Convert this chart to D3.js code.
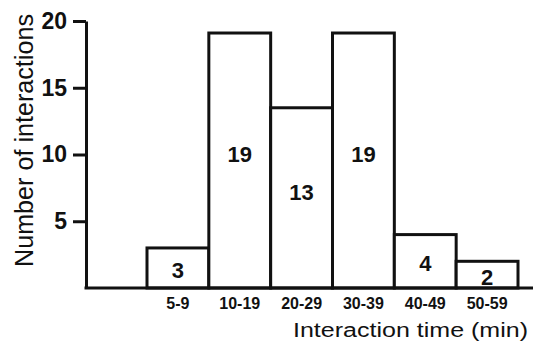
<!DOCTYPE html>
<html>
<head>
<meta charset="utf-8">
<script src="https://cdn.jsdelivr.net/npm/d3@7"></script>
<style>
  html, body { margin: 0; padding: 0; background: #fff; }
  svg { display: block; }
  text { font-family: "Liberation Sans", Arial, sans-serif; fill: #111; }
</style>
</head>
<body>
<svg id="chart" width="533" height="342"></svg>
<script>
const categories = ["5-9", "10-19", "20-29", "30-39", "40-49", "50-59"];
const counts = [3, 19, 13, 19, 4, 2];
const barHeights = [3, 19.1, 13.5, 19.1, 4, 2];
const yTicks = [5, 10, 15, 20];
const yTitle = "Number of interactions";
const xTitle = "Interaction time (min)";

const W = 533, H = 342;
const axisX = 86, axisY = 288, topY = 21;
const svg = d3.select("#chart");

const y = d3.scaleLinear().domain([0, 20]).range([axisY, topY]);
const x = d3.scaleBand().domain(categories).range([147, 518]).padding(0);

// bars
const data = categories.map((c, i) => ({ c, h: barHeights[i], n: counts[i] }));
svg.append("g").selectAll("rect").data(data).join("rect")
  .attr("x", d => x(d.c))
  .attr("y", d => y(d.h))
  .attr("width", x.bandwidth())
  .attr("height", d => y(0) - y(d.h))
  .attr("fill", "#fff")
  .attr("stroke", "#111")
  .attr("stroke-width", 3);

// bar labels
svg.append("g").selectAll("text").data(data).join("text")
  .attr("x", d => x(d.c) + x.bandwidth() / 2)
  .attr("y", d => (y(d.h) + y(0)) / 2 + (d.h > 10 ? -6 : 2))
  .attr("dy", "0.36em")
  .attr("text-anchor", "middle")
  .attr("font-weight", "bold")
  .attr("font-size", 22)
  .text(d => d.n);

// y axis
const yAxis = svg.append("g")
  .attr("transform", `translate(${axisX},0)`)
  .call(d3.axisLeft(y).tickValues(yTicks).tickSize(13).tickSizeOuter(0).tickPadding(6));
yAxis.select(".domain").attr("stroke", "#111").attr("stroke-width", 3);
yAxis.selectAll(".tick line").attr("stroke", "#111").attr("stroke-width", 3);
yAxis.selectAll(".tick text")
  .attr("font-family", "Liberation Sans, Arial, sans-serif")
  .attr("font-size", 23).attr("font-weight", "bold").attr("fill", "#111");

// x axis baseline
svg.append("line")
  .attr("x1", axisX - 1.5).attr("x2", W)
  .attr("y1", y(0)).attr("y2", y(0))
  .attr("stroke", "#111").attr("stroke-width", 3);

// x category labels
const xAxis = svg.append("g")
  .attr("transform", `translate(0,${y(0)})`)
  .call(d3.axisBottom(x).tickSize(0).tickPadding(0));
xAxis.select(".domain").remove();
xAxis.selectAll(".tick text")
  .attr("y", 21).attr("dy", 0)
  .attr("font-family", "Liberation Sans, Arial, sans-serif")
  .attr("font-size", 16).attr("font-weight", "bold").attr("fill", "#111");

// titles
svg.append("text")
  .attr("transform", `translate(33,${(14 + 267) / 2}) rotate(-90)`)
  .attr("text-anchor", "middle")
  .attr("font-size", 25)
  .attr("textLength", 253)
  .attr("lengthAdjust", "spacingAndGlyphs")
  .attr("fill", "#222")
  .text(yTitle);

svg.append("text")
  .attr("x", 293).attr("y", 337)
  .attr("font-size", 19.5)
  .attr("textLength", 235)
  .attr("lengthAdjust", "spacingAndGlyphs")
  .attr("fill", "#222")
  .text(xTitle);
</script>
</body>
</html>
